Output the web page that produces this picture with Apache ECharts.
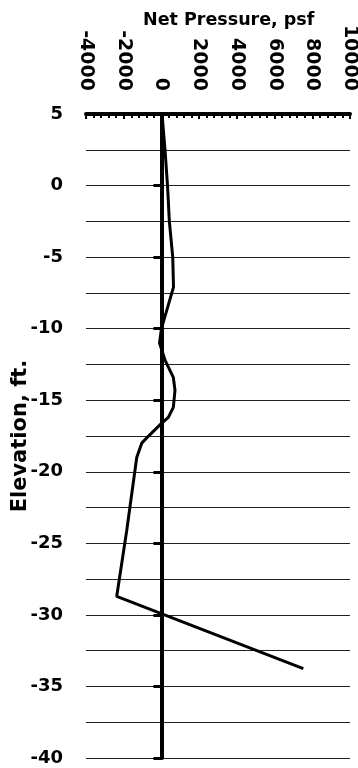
<!DOCTYPE html>
<html>
<head>
<meta charset="utf-8">
<script src="https://cdn.jsdelivr.net/npm/echarts@6/dist/echarts.min.js"></script>
<style>html,body{margin:0;padding:0;background:#fff}#c{width:358px;height:768px}</style>
</head>
<body>
<div id="c"></div>
<script>
// Net pressure (psf) vs. elevation (ft)
const pressure  = [30, 190, 323, 420, 600, 640, 0, -100, 190, 630, 720, 630, 366, 16, -605, -1045, -1310, -1840, -2370, 7525];
const elevation = [5, 2.5, 0, -2.5, -5, -7.1, -10, -11, -12.2, -13.4, -14.3, -15.5, -16.2, -16.6, -17.4, -18, -19, -24.1, -28.7, -33.75];
const xTicks = {min: -4000, max: 10000, interval: 2000};
const yTicks = {min: -40, max: 5, interval: 5};
const xTitle = 'Net Pressure, psf';
const yTitle = 'Elevation, ft.';

const FONT = 'DejaVu Sans';
const chart = echarts.init(document.getElementById('c'), null, {renderer: 'canvas'});
chart.setOption({
  animation: false,
  backgroundColor: '#fff',
  title: {
    text: xTitle, left: 143, top: 11, padding: 0,
    textStyle: {fontFamily: FONT, fontWeight: 'bold', fontSize: 17.5, color: '#000'}
  },
  grid: {left: 86, right: 8, top: 114, bottom: 10, containLabel: false, outerBoundsMode: 'none'},
  xAxis: {
    type: 'value', position: 'top',
    min: xTicks.min, max: xTicks.max, interval: xTicks.interval,
    axisLine: {onZero: false, lineStyle: {color: '#000', width: 4}},
    axisTick: {show: true, inside: true, length: 5, lineStyle: {color: '#000', width: 2}},
    minorTick: {show: true, splitNumber: 5, length: 4, lineStyle: {color: '#000', width: 2}},
    axisLabel: {rotate: 90, margin: 23, fontFamily: FONT, fontWeight: 'bold', fontSize: 19, color: '#000',
      formatter: v => String(v), hideOverlap: false},
    splitLine: {show: false}
  },
  yAxis: [{
    type: 'value', position: 'left',
    min: yTicks.min, max: yTicks.max, interval: yTicks.interval,
    name: yTitle, nameLocation: 'middle', nameGap: 55, nameMoveOverlap: false,
    nameTextStyle: {fontFamily: FONT, fontWeight: 'bold', fontSize: 21, color: '#000'},
    axisLine: {show: false},
    axisTick: {show: false},
    axisLabel: {margin: 23, fontFamily: FONT, fontWeight: 'bold', fontSize: 18, color: '#000', padding: [3, 0, 0, 0]},
    splitLine: {show: true, lineStyle: {color: '#222', width: 1}},
    minorTick: {show: false, splitNumber: 2},
    minorSplitLine: {show: true, lineStyle: {color: '#222', width: 1}}
  }, {
    type: 'value', position: 'left',
    min: yTicks.min, max: yTicks.max, interval: yTicks.interval,
    axisLine: {show: true, onZero: true, onZeroAxisIndex: 0, lineStyle: {color: '#000', width: 4}},
    axisTick: {show: true, length: 8, lineStyle: {color: '#000', width: 3}},
    axisLabel: {show: false},
    splitLine: {show: false}
  }],
  series: [{
    type: 'line', yAxisIndex: 0, symbol: 'none', smooth: false,
    lineStyle: {color: '#000', width: 3},
    data: pressure.map((p, i) => [p, elevation[i]])
  }]
});
</script>
</body>
</html>
